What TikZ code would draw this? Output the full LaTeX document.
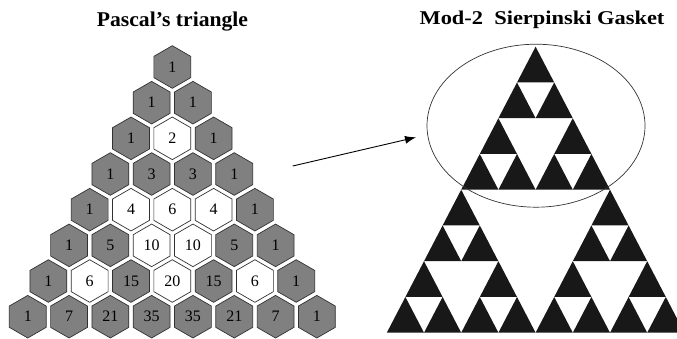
\documentclass[tikz,border=0pt]{standalone}
\usepackage{fontspec}
\usepackage{graphicx}
\setmainfont{Liberation Serif}
\usetikzlibrary{shapes.geometric,arrows.meta}
\definecolor{hexgray}{RGB}{128,128,128}
\definecolor{hexline}{RGB}{50,50,50}
\definecolor{gasket}{RGB}{24,24,24}
\tikzset{
  hexcell/.style={regular polygon, regular polygon sides=6, shape border rotate=30,
    minimum size=42.6pt, inner sep=0pt, draw=hexline, line width=0.7pt,
    font=\fontsize{16}{16}\selectfont},
  oddcell/.style={hexcell, fill=hexgray},
  evencell/.style={hexcell, fill=white},
  titletext/.style={font=\fontsize{21}{21}\selectfont\bfseries, inner sep=0pt, anchor=base},
  gasketcell/.style={fill=gasket},
  zoomring/.style={draw=hexline, line width=0.7pt},
  pointer/.style={draw=black, line width=0.9pt, -{Latex[length=11pt,width=8pt]}}
}
\begin{document}
\begin{tikzpicture}[x=1pt,y=-1pt]
\useasboundingbox (0,0) rectangle (677,338);
\clip (0,0) rectangle (677,338);
% titles
\node[titletext] (t1) at (172.5,26.7) {\scalebox{1.03}[1]{Pascal’s triangle}};
\node[titletext, font=\fontsize{19.5}{19.5}\selectfont\bfseries] (t2) at (542,24.3) {\scalebox{1.15}[1]{Mod-2\ \ Sierpinski Gasket}};
% Pascal triangle and gasket
\foreach \r/\vals in {0/{1},1/{1,1},2/{1,2,1},3/{1,3,3,1},4/{1,4,6,4,1},5/{1,5,10,10,5,1},6/{1,6,15,20,15,6,1},7/{1,7,21,35,35,21,7,1}}{
  \foreach \v [count=\k from 0] in \vals {
    \pgfmathsetmacro{\hx}{172.3+(\k-\r/2)*41.3}
    \pgfmathsetmacro{\hy}{67+\r*35.67}
    \ifodd\v\relax
      \node[oddcell] (h-\r-\k) at (\hx,\hy) {\v};
      \pgfmathsetmacro{\gx}{535.6+(\k-\r/2)*37.2}
      \pgfmathsetmacro{\gy}{46.7+\r*35.75}
      \fill[gasketcell] (\gx,\gy) -- ++(18.6,35.75) -- ++(-37.2,0) -- cycle;
    \else
      \node[evencell] (h-\r-\k) at (\hx,\hy) {\v};
    \fi
  }
}
% ellipse and arrow
\node[zoomring, ellipse, minimum width=218pt, minimum height=163pt, inner sep=0pt] (ring) at (536,125.7) {};
\coordinate (from) at (292.7,166);
\coordinate (to) at (416,137.3);
\draw[pointer] (from) -- (to);
\end{tikzpicture}
\end{document}
